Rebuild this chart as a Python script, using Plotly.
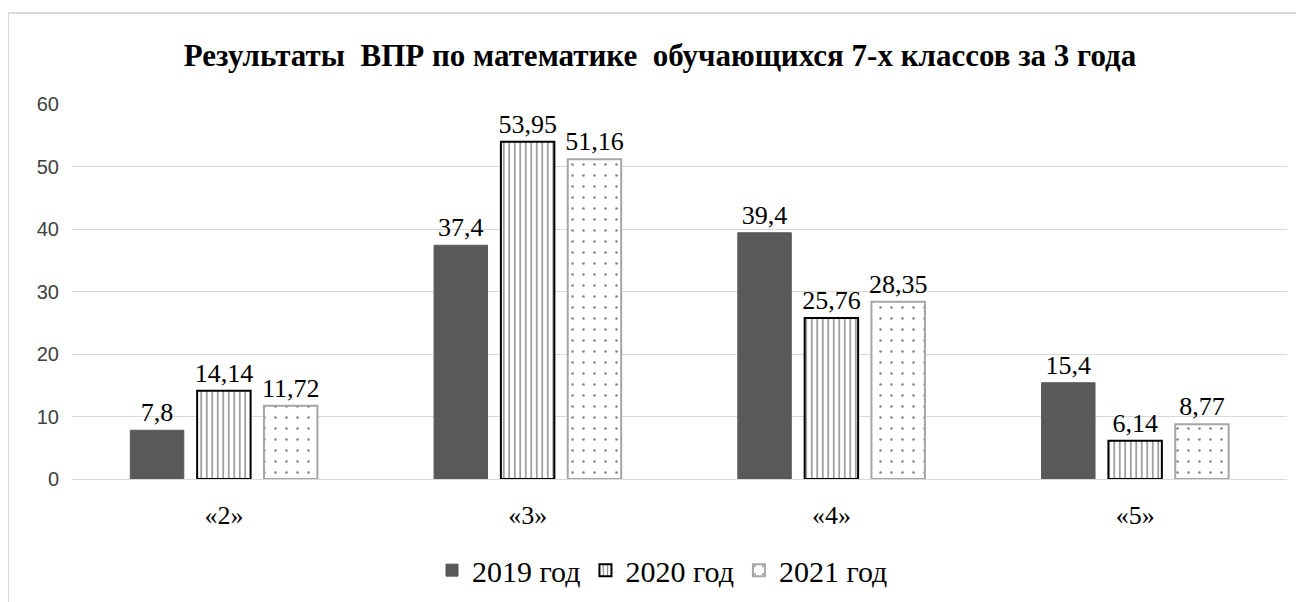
import plotly.graph_objects as go

categories = ["«2»", "«3»", "«4»", "«5»"]
years = ["2019 год", "2020 год", "2021 год"]
values_2019 = [7.8, 37.4, 39.4, 15.4]
values_2020 = [14.14, 53.95, 25.76, 6.14]
values_2021 = [11.72, 51.16, 28.35, 8.77]
y_ticks = [0, 10, 20, 30, 40, 50, 60]

SERIF = "Liberation Serif, Times New Roman, serif"
SANS = "Liberation Sans, Arial, sans-serif"


def fmt(v):
    return f"{v:g}".replace(".", ",")


styles = [
    dict(color="#595959", line=dict(color="#595959", width=1)),
    dict(color="white", line=dict(color="black", width=2),
         pattern=dict(shape="|", fgcolor="black", bgcolor="white", size=5.5, solidity=0.25)),
    dict(color="white", line=dict(color="#a6a6a6", width=2),
         pattern=dict(shape=".", fgcolor="black", bgcolor="white", size=11, solidity=0.04)),
]

fig = go.Figure()
for name, vals, st in zip(years, [values_2019, values_2020, values_2021], styles):
    fig.add_trace(go.Bar(
        x=categories, y=vals, name=name,
        marker=st,
        text=[fmt(v) for v in vals],
        textposition="outside",
        constraintext="none",
        textfont=dict(family=SERIF, size=26, color="black"),
        cliponaxis=False,
    ))

fig.update_layout(
    width=1304, height=602,
    margin=dict(l=64, r=25, t=96, b=131),
    plot_bgcolor="white", paper_bgcolor="white",
    barmode="group", bargap=0.34, bargroupgap=0.2,
    title=dict(text="<b>Результаты  ВПР по математике  обучающихся 7-х классов за 3 года</b>",
               x=0.5, xanchor="center", y=0.922, yanchor="middle",
               font=dict(family=SERIF, size=31, color="black")),
    legend=dict(orientation="h", x=0.486, xanchor="center", y=-0.243, yanchor="middle",
                font=dict(family=SERIF, size=30, color="black"),
                itemwidth=30, traceorder="normal"),
    showlegend=True,
)

fig.update_yaxes(range=[0, 60], tickvals=y_ticks, showgrid=True, gridcolor="#d9d9d9",
                 gridwidth=1, zeroline=True, zerolinecolor="#d9d9d9", zerolinewidth=1,
                 showline=False, ticklabelstandoff=12,
                 tickfont=dict(family=SANS, size=20, color="#404040"))
fig.update_xaxes(showline=False, showgrid=False, ticklabelstandoff=18,
                 tickfont=dict(family=SERIF, size=26, color="black"))

# chart frame (top and left edges visible in reference)
fig.add_shape(type="line", xref="paper", yref="paper", x0=-0.0527, x1=1.03, y0=1.2427, y1=1.2427,
              line=dict(color="#d9d9d9", width=2))
fig.add_shape(type="line", xref="paper", yref="paper", x0=-0.0527, x1=-0.0527, y0=1.2427, y1=-0.4,
              line=dict(color="#d9d9d9", width=2))

fig.write_html("out.html")
